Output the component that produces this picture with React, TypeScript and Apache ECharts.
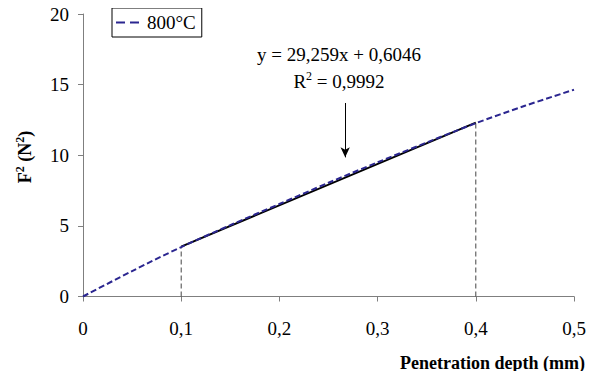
import React, { useEffect, useRef } from "react";
import * as echarts from "echarts";

const depth = [0, 0.05, 0.1, 0.15, 0.2, 0.25, 0.3, 0.35, 0.4, 0.45, 0.5];
const force2 = [0, 1.8, 3.5, 5.05, 6.55, 8.05, 9.5, 10.9, 12.27, 13.5, 14.64];
const fitX = [0.1, 0.4];
const fitY = [3.53, 12.31];
const guideX = [0.1, 0.4];
const guideTop = [3.5, 12.27];
const arrowX = 0.267;
const arrowFrom = 13.7;
const arrowTo = 9.85;
const xTicks = [0, 0.1, 0.2, 0.3, 0.4, 0.5];
const yTicks = [0, 5, 10, 15, 20];
const seriesName = "800°C";
const eqText = "y = 29,259x + 0,6046";
const r2Text = "R{sup|2} = 0,9992";

const FONT = "Liberation Serif";

export default function App() {
  const ref = useRef<HTMLDivElement>(null);
  useEffect(() => {
    if (!ref.current) return;
    const chart = echarts.init(ref.current, null, { renderer: "svg" });
    const axisCommon = {
      axisLine: { show: true, lineStyle: { color: "#7f7f7f", width: 1 } },
      axisTick: { show: true, inside: false, length: 5, lineStyle: { color: "#7f7f7f" } },
      splitLine: { show: false },
    };
    chart.setOption({
      animation: false,
      backgroundColor: "#ffffff",
      textStyle: { fontFamily: FONT },
      grid: { left: 83, right: 21, top: 14, bottom: 82.5, containLabel: false },
      legend: {
        data: [seriesName],
        left: 112,
        top: 8,
        orient: "horizontal",
        borderColor: "#000",
        borderWidth: 1,
        borderRadius: 0,
        padding: [5, 6, 5, 3],
        itemWidth: 28,
        itemHeight: 14,
        itemGap: 0,
        itemStyle: { color: "transparent", borderWidth: 0, opacity: 0 },
        lineStyle: { type: [9, 5], width: 2, color: "#2b2690" },
        textStyle: { fontFamily: FONT, fontSize: 19, color: "#000", padding: [0, 0, 0, -2] },
      },
      xAxis: {
        type: "value",
        min: 0,
        max: 0.5,
        interval: 0.1,
        ...axisCommon,
        axisLabel: {
          fontFamily: FONT,
          fontSize: 19,
          color: "#000",
          margin: 22,
          formatter: (v: number) => {
            const t = xTicks.find((x) => Math.abs(x - v) < 1e-9);
            return t === undefined ? "" : String(t).replace(".", ",");
          },
        },
      },
      yAxis: {
        type: "value",
        min: 0,
        max: 20,
        interval: 5,
        ...axisCommon,
        axisLabel: {
          fontFamily: FONT,
          fontSize: 19,
          color: "#000",
          margin: 14,
          formatter: (v: number) => (yTicks.includes(v) ? String(v) : ""),
        },
      },
      series: [
        {
          name: "fit",
          type: "line",
          data: fitX.map((x, i) => [x, fitY[i]]),
          symbol: "none",
          lineStyle: { color: "#000", width: 2 },
          z: 2,
        },
        ...guideX.map((x, i) => ({
          name: "guide" + i,
          type: "line",
          data: [
            [x, 0],
            [x, guideTop[i]],
          ],
          symbol: "none",
          lineStyle: { color: "#444", width: 1, type: [5, 3] },
          z: 1,
        })),
        {
          name: seriesName,
          type: "line",
          data: depth.map((x, i) => [x, force2[i]]),
          symbol: "none",
          smooth: 0.3,
          lineStyle: { color: "#2b2690", width: 2, type: [6, 3] },
          itemStyle: { color: "#2b2690" },
          z: 3,
          markLine: {
            silent: true,
            symbol: ["none", "arrow"],
            symbolSize: [7, 10],
            label: { show: false },
            lineStyle: { color: "#000", width: 1, type: "solid" },
            data: [
              [
                { coord: [arrowX, arrowFrom] },
                { coord: [arrowX, arrowTo] },
              ],
            ],
          },
        },
      ],
      graphic: [
        {
          type: "text",
          x: 339,
          y: 45,
          style: {
            text: eqText,
            fontFamily: FONT,
            fontSize: 19,
            fill: "#000",
            align: "center",
            verticalAlign: "top",
          },
        },
        {
          type: "text",
          x: 339,
          y: 70,
          style: {
            text: r2Text,
            fontFamily: FONT,
            fontSize: 19,
            fill: "#000",
            align: "center",
            verticalAlign: "top",
            rich: { sup: { fontSize: 12, fontFamily: FONT, padding: [0, 0, 10, 0] } },
          },
        },
        {
          type: "text",
          x: 585,
          y: 363,
          style: {
            text: "Penetration depth (mm)",
            fontFamily: FONT,
            fontSize: 18,
            fontWeight: "bold",
            fill: "#000",
            align: "right",
            verticalAlign: "middle",
          },
        },
        {
          type: "text",
          x: 25,
          y: 157,
          rotation: Math.PI / 2,
          style: {
            text: "F{sup|2} (N{sup|2})",
            fontFamily: FONT,
            fontSize: 18,
            fontWeight: "bold",
            fill: "#000",
            align: "center",
            verticalAlign: "middle",
            rich: { sup: { fontSize: 12, fontWeight: "bold", fontFamily: FONT, padding: [0, 0, 10, 0] } },
          },
        },
      ],
    });
    return () => chart.dispose();
  }, []);
  return <div ref={ref} style={{ width: 595, height: 379, margin: -8 }} />;
}
